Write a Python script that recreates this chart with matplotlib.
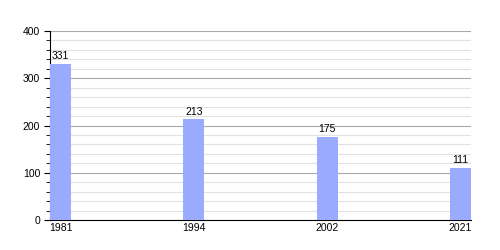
import matplotlib.pyplot as plt
from matplotlib.ticker import MultipleLocator

years = ['1981', '1994', '2002', '2021']
population = [331, 213, 175, 111]

plt.rcParams['font.family'] = ['Liberation Sans', 'DejaVu Sans']

fig = plt.figure(figsize=(5, 2.5), dpi=100)
ax = fig.add_axes([0.1, 0.12, 0.842, 0.756])

bar_w = 0.157
pos = list(range(len(years)))
ax.bar(pos, population, width=bar_w, color='#99aaff', zorder=3)
for x, v in zip(pos, population):
    ax.text(x, v + 6, str(v), ha='center', va='bottom', fontsize=7.5)

ax.set_xlim(-bar_w / 2, len(years) - 1 + bar_w / 2)
ax.set_ylim(0, 400)
ax.set_xticks(pos)
ax.set_xticklabels(years)
ax.yaxis.set_major_locator(MultipleLocator(100))
ax.yaxis.set_minor_locator(MultipleLocator(20))
ax.grid(axis='y', which='major', color='#a8a8a8', linewidth=0.8, zorder=0)
ax.grid(axis='y', which='minor', color='#e2e2e2', linewidth=0.8, zorder=0)
ax.tick_params(axis='x', length=0, pad=2, labelsize=7.5)
ax.tick_params(axis='y', which='major', length=4, labelsize=7.5, pad=3)
ax.tick_params(axis='y', which='minor', length=3)

for s in ['top', 'right']:
    ax.spines[s].set_visible(False)
ax.spines['left'].set_linewidth(0.8)
ax.spines['bottom'].set_linewidth(0.8)

fig.savefig('out.png', dpi=100)
